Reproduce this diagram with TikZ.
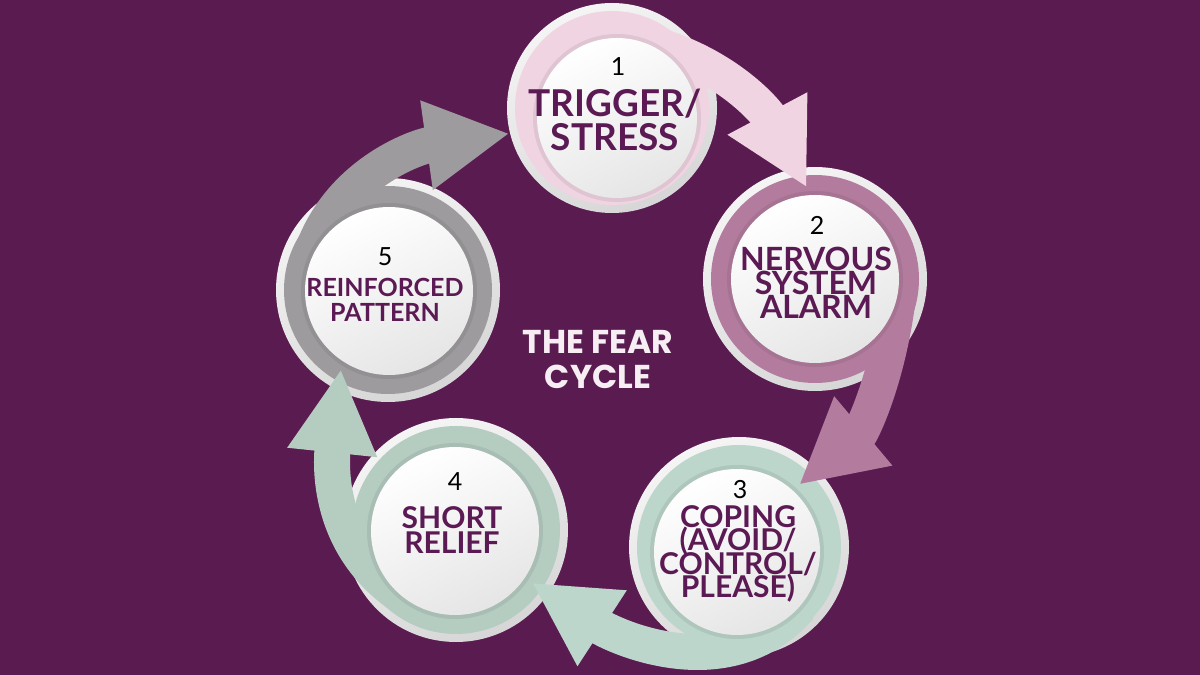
\documentclass[tikz,border=0pt]{standalone}
\usepackage{fontspec}
\usetikzlibrary{arrows.meta}

\newfontfamily\lato{Lato}
\newfontfamily\poppins{Poppins}

\definecolor{bgpurple}{HTML}{5A1B50}
\definecolor{txtpurple}{HTML}{5C1A54}
\definecolor{titlewhite}{HTML}{F6EEF3}
\definecolor{rimgray}{HTML}{E4E2E4}
\definecolor{pinkA}{HTML}{F0D4E1}
\definecolor{mauveA}{HTML}{B37C9E}
\definecolor{sageA}{HTML}{BCD6CB}
\definecolor{sageB}{HTML}{B5CCC1}
\definecolor{grayA}{HTML}{9E9B9F}

\newcommand{\tightlines}{\lineskiplimit=-50pt\relax}

\begin{document}
\begin{tikzpicture}[x=0.5pt, y=0.5pt,
  rim/.style={circle, top color=white!96!black, bottom color=black!16, shading angle=25, inner sep=0pt},
  hole/.style={circle, inner sep=0pt},
  disc/.style={top color=white, bottom color=black!10, shading angle=25},
  band/.style={line width=18pt, -{Triangle[length=42pt,width=42pt]}, shorten >=4pt},
  lbl/.style 2 args={text=txtpurple, align=center, inner sep=0pt,
    font={\lato\bfseries\fontsize{#1}{#2}\selectfont\tightlines}},
  num/.style={text=black, inner sep=0pt, font=\lato\fontsize{12.5pt}{12.5pt}\selectfont}]

% Page
\useasboundingbox (0,0) rectangle (1200,675);
\fill[bgpurple] (0,0) rectangle (1200,675);

% Rims and rings (number/rim x/rim y/rim radius/disc x/disc y/disc radius/colour)
\foreach \n/\x/\y/\r/\u/\v/\d/\col in {
1/612/567/105/617/557/80/pinkA,
2/815/396/112/815/396/84/mauveA,
3/739/128/110/737/123/83/sageA,
4/456/145/112/455/144/84/sageB,
5/388/385/112/389/384/84/grayA} {
  \node[rim, minimum size=2*\r*0.5pt] (c\n) at (\x,\y) {};
  \fill[\col] (c\n) circle [radius=\r-8];
  \node[hole, minimum size=2*\d*0.5pt] (t\n) at (\u,\v) {};
}

% Arrows, each one leaves its ring and ends in the next circle
\draw[band, pinkA] (t1.78) to[out=-12, in=118] (t2.93);
\draw[band, mauveA] (t2.354) to[out=-96, in=40] (t3.48);
\draw[band, sageA] (t3.319) to[out=-131, in=-33] (t4.326);
\draw[band, sageB] (t4.229) to[out=145, in=-96] (t5.236);
\draw[band, grayA, shorten >=0pt] (t5.169) to[out=79, in=-172] (c1.194);

% White discs
\foreach \n/\d in {1/80, 2/84, 3/83, 4/84, 5/84} {
  \fill[black, opacity=.07] (t\n) circle [radius=\d+4];
  \shade[disc] (t\n) circle [radius=\d];
}

% Steps
\node[num] (n1) at (618,608) {1};
\node[lbl={18.5pt}{17pt}] (l1) at (615,555) {TRIGGER/\\STRESS};

\node[num] (n2) at (817,450) {2};
\node[lbl={16pt}{12pt}] (l2) at (816,392) {NERVOUS\\SYSTEM\\ALARM};

\node[num] (n3) at (740,185) {3};
\node[lbl={15pt}{11.75pt}] (l3) at (738,121) {COPING\\(AVOID/\\CONTROL/\\PLEASE)};

\node[num] (n4) at (455,193) {4};
\node[lbl={15pt}{12.5pt}] (l4) at (452,145) {SHORT\\RELIEF};

\node[num] (n5) at (385,418) {5};
\node[lbl={12.5pt}{12.5pt}] (l5) at (385,375) {REINFORCED\\PATTERN};

% Title
\node[text=titlewhite, align=center, inner sep=0pt,
      font=\poppins\bfseries\fontsize{16.5pt}{17.5pt}\selectfont] (title) at (598,315) {THE FEAR\\CYCLE};

\end{tikzpicture}
\end{document}
